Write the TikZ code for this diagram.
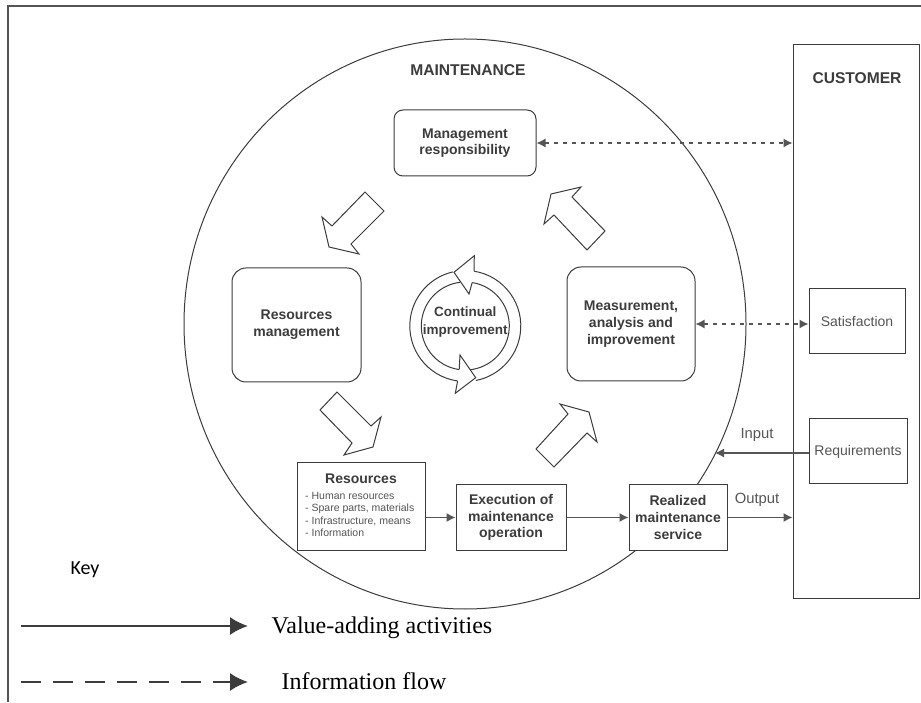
\documentclass[tikz,border=0pt]{standalone}
\usepackage{fontspec}
\setmainfont{Liberation Sans}
\newfontfamily\legendfont{Liberation Serif}
\newfontfamily\keyfont{Carlito}
\usetikzlibrary{arrows.meta,shapes.geometric}
\definecolor{inkgray}{HTML}{3C3C3C}
\definecolor{softgray}{HTML}{555555}
\tikzset{
    softbox/.style={draw=inkgray,line width=1pt,rounded corners=9pt,fill=white,align=center,inner sep=0pt,text=inkgray,font=\bfseries\fontsize{14}{16.7}\selectfont},
    sharpbox/.style={draw=inkgray,line width=1pt,fill=white,align=center,inner sep=0pt,text=inkgray,font=\bfseries\fontsize{14}{16.7}\selectfont},
    thinbox/.style={draw=inkgray,line width=1pt,fill=white,align=center,inner sep=0pt,text=softgray,font=\fontsize{14}{16}\selectfont},
    tagtext/.style={inner sep=0pt,text=softgray,font=\fontsize{14.8}{16}\selectfont},
    headtext/.style={inner sep=0pt,text=inkgray,font=\bfseries\fontsize{15.6}{18}\selectfont},
    legendtext/.style={inner sep=0pt,anchor=west,text=black,font=\legendfont\fontsize{24}{28}\selectfont},
    bigarrow/.style={draw=inkgray,line width=1pt,fill=white,line join=miter},
    flow/.style={draw=softgray,line width=1.2pt,-{Latex[length=9pt,width=9pt]}},
    infoflow/.style={draw=softgray,line width=1.2pt,dash pattern=on 4.5pt off 4.5pt,{Latex[length=9pt,width=9pt]}-{Latex[length=9pt,width=9pt]}},
    keyflow/.style={draw=inkgray,line width=2pt,-{Latex[length=18pt,width=18pt]}}
}
\begin{document}
\begin{tikzpicture}[x=1pt,y=1pt]
        \useasboundingbox (0,0) rectangle (921,702);
        \draw[softgray,line width=2pt] (8,0)--(8,696)--(921,696);
        \node[draw=inkgray,line width=1pt,ellipse,minimum width=562pt,minimum height=570pt,inner sep=0pt] (maintenance) at (465,378){};
        \node[headtext] (maintenancetitle) at (468,632){MAINTENANCE};
        \node[draw=inkgray,line width=1pt,fill=white,minimum width=126pt,minimum height=553pt,inner sep=0pt] (customer) at (856,380.5){};
        \node[headtext] (customertitle) at (857,624){CUSTOMER};
        \node[thinbox,minimum width=96pt,minimum height=65pt] (satisfaction) at (857,380.5){Satisfaction};
        \node[thinbox,minimum width=98pt,minimum height=65pt] (requirements) at (858,250.5){Requirements};
        \node[softbox,minimum width=142pt,minimum height=66pt] (responsibility) at (465,559){Management\\responsibility};
        \node[softbox,minimum width=129pt,minimum height=114pt,rounded corners=14pt] (resourcesmgmt) at (296.5,377){Resources\\management};
        \node[softbox,minimum width=128pt,minimum height=114pt,rounded corners=14pt] (measurement) at (631,378){Measurement,\\analysis and\\improvement};
        \node[sharpbox,minimum width=128pt,minimum height=87pt] (resources) at (361,195.5){};
        \node[sharpbox,draw=none,fill=none] (resourcestitle) at (361,223){Resources};
        \node[inner sep=0pt,anchor=north west,align=left,text=softgray,font=\fontsize{10.5}{12.4}\selectfont] (resourceslist) at (305,210){- Human resources\\- Spare parts, materials\\- Infrastructure, means\\- Information};
        \node[sharpbox,minimum width=110pt,minimum height=65pt] (execution) at (511,184.5){Execution of\\maintenance\\operation};
        \node[sharpbox,minimum width=98pt,minimum height=65pt] (realized) at (678,184.5){Realized\\maintenance\\service};
        \draw[bigarrow] (365,510)--(384,491)--(351,458)--(359,448)--(329,455)--(322,485)--(332,476)--cycle;
        \draw[bigarrow] (337,310)--(320,292)--(352,259)--(344,247)--(373,255)--(381,285)--(371,276)--cycle;
        \draw[bigarrow] (536,253)--(554,235)--(587,269)--(597,260)--(589,290)--(560,298)--(568,288)--cycle;
        \draw[bigarrow] (581,515)--(572,505)--(605,471)--(587,452)--(554,487)--(544,478)--(551,508)--cycle;
        \coordinate (ringcenter) at (465.3,376);
        \draw[inkgray,line width=1pt] ([shift={(81:55.5pt)}]ringcenter) arc[start angle=81,end angle=-79,radius=55.5pt];
        \draw[inkgray,line width=1pt] ([shift={(81:44pt)}]ringcenter) arc[start angle=81,end angle=-85,radius=44pt];
        \draw[inkgray,line width=1pt] ([shift={(262:55.5pt)}]ringcenter) arc[start angle=262,end angle=103,radius=55.5pt];
        \draw[inkgray,line width=1pt] ([shift={(262:44pt)}]ringcenter) arc[start angle=262,end angle=97,radius=44pt];
        \draw[bigarrow] (474,430.8)--(474.3,446.3)--(454,429.7)--(469,408)--(472.2,419.5);
        \draw[bigarrow] (459.2,332.4)--(460,347)--(475.7,324.3)--(455.3,308.7)--(457.6,321);
        \node[inner sep=0pt,align=center,text=inkgray,font=\bfseries\fontsize{13.5}{17.5}\selectfont] (continual) at (465.3,380){Continual\\improvement};
        \draw[flow] (execution.west -| resources.east)--(execution.west);
        \draw[flow] (execution.east)--(realized.west);
        \draw[flow] (realized.east)--(realized.east -| customer.west);
        \coordinate (inputend) at (715,249);
        \draw[flow] (requirements.west |- inputend)--(inputend);
        \node[tagtext] (inputtag) at (757,267){Input};
        \node[tagtext] (outputtag) at (757,202){Output};
        \draw[infoflow] (responsibility.east)--(responsibility.east -| customer.west);
        \draw[infoflow] (measurement.east)--(measurement.east -| satisfaction.west);
        \node[inner sep=0pt,font=\keyfont\fontsize{20}{22}\selectfont] (keytitle) at (85,132){Key};
        \coordinate (keysolidstart) at (21,76);
        \node[legendtext] (valuetag) at (271.5,74){Value-adding activities};
        \coordinate (keysolidend) at (248,76);
        \draw[keyflow] (keysolidstart)--(keysolidend);
        \coordinate (keydashstart) at (21,20);
        \coordinate (keydashend) at (248,20);
        \node[legendtext] (infotag) at (281.5,21){Information flow};
        \draw[keyflow,dash pattern=on 20pt off 12pt] (keydashstart)--(keydashend);
    \end{tikzpicture}
\end{document}
